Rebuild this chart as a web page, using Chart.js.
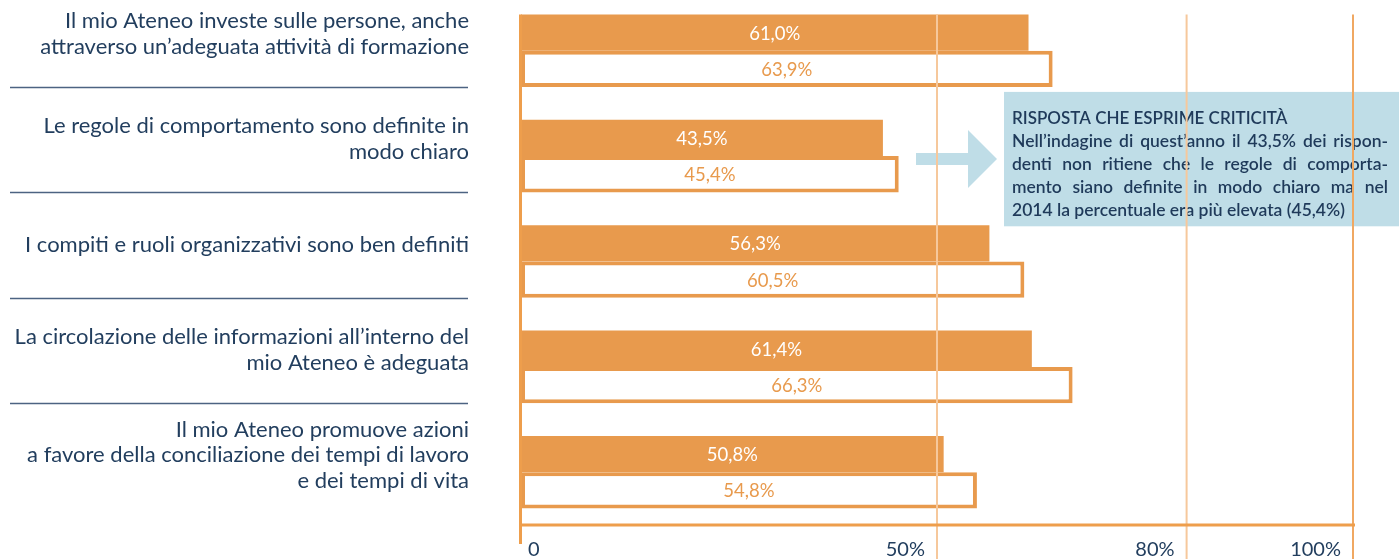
<!DOCTYPE html>
<html><head><meta charset="utf-8">
<script src="https://cdn.jsdelivr.net/npm/chart.js@4.4.1/dist/chart.umd.min.js"></script>
<style>
html,body{margin:0;padding:0;background:#fff;overflow:hidden;width:1399px;height:559px;}
#wrap{position:absolute;left:0;top:-2px;width:1399px;height:561px;}
</style></head><body>
<div id="wrap"><canvas id="c"></canvas></div>
<script>
const categories = [
  ["Il mio Ateneo investe sulle persone, anche", "attraverso un’adeguata attività di formazione"],
  ["Le regole di comportamento sono definite in", "modo chiaro"],
  ["I compiti e ruoli organizzativi sono ben definiti"],
  ["La circolazione delle informazioni all’interno del", "mio Ateneo è adeguata"],
  ["Il mio Ateneo promuove azioni", "a favore della conciliazione dei tempi di lavoro", "e dei tempi di vita"]
];
const valuesCurrent = [61.0, 43.5, 56.3, 61.4, 50.8];
const values2014 = [63.9, 45.4, 60.5, 66.3, 54.8];
const tickValues = [0, 50, 80, 100];
const tickLabels = ["0", "50%", "80%", "100%"];
const noteTitle = "RISPOSTA CHE ESPRIME CRITICITÀ";
const noteLines = [
  "Nell’indagine di quest’anno il 43,5% dei rispon-",
  "denti non ritiene che le regole di comporta-",
  "mento siano definite in modo chiaro ma nel",
  "2014 la percentuale era più elevata (45,4%)"
];

const ORANGE = '#E89A4D';
const AXIS_ORANGE = '#EE9E4C';
const GRID_LIGHT = '#F6C89C';
const GRID_100 = '#F0A862';
const NAVY = '#223E5E';
const SEP = '#4C6382';
const NOTE_BG = '#BFDDE7';
const FONT = 'Lato, "Open Sans", sans-serif';

function fmt(v){ return v.toFixed(1).replace('.', ',') + '%'; }

const decor = {
  id: 'decor',
  afterDraw(chart) {
    const ctx = chart.ctx;
    const xs = chart.scales.x, ys = chart.scales.y;
    const ca = chart.chartArea;
    const m0 = chart.getDatasetMeta(0), m1 = chart.getDatasetMeta(1);
    const H = chart.height;
    const topY = m0.data[0].y - m0.data[0].height / 2;

    // bar value labels
    ctx.save();
    ctx.textAlign = 'center';
    ctx.textBaseline = 'middle';
    ctx.font = '400 18.5px ' + FONT;
    [m0, m1].forEach((m, di) => {
      const vals = di === 0 ? valuesCurrent : values2014;
      ctx.fillStyle = di === 0 ? '#FFFFFF' : ORANGE;
      m.data.forEach((el, i) => {
        ctx.fillText(fmt(vals[i]), (el.x + el.base) / 2, el.y + 1);
      });
    });
    ctx.restore();

    // separators between category labels
    ctx.save();
    ctx.strokeStyle = SEP;
    ctx.lineWidth = 1.3;
    for (let i = 0; i < m1.data.length - 1; i++) {
      const el = m1.data[i];
      const y = Math.round(el.y + el.height / 2) + 0.5;
      ctx.beginPath();
      ctx.moveTo(10, y);
      ctx.lineTo(468, y);
      ctx.stroke();
    }
    ctx.restore();

    // annotation arrow + box
    const gc = ys.getPixelForValue(1) + 3;
    ctx.save();
    ctx.fillStyle = NOTE_BG;
    ctx.beginPath();
    ctx.moveTo(916, gc - 6);
    ctx.lineTo(968, gc - 6);
    ctx.lineTo(968, gc - 29);
    ctx.lineTo(997, gc);
    ctx.lineTo(968, gc + 29);
    ctx.lineTo(968, gc + 6);
    ctx.lineTo(916, gc + 6);
    ctx.closePath();
    ctx.fill();
    const boxTop = gc - 67.2, boxBot = gc + 67.2;
    ctx.fillRect(1004, boxTop, chart.width - 1004, boxBot - boxTop);
    ctx.fillStyle = '#1F3A5A';
    ctx.textBaseline = 'alphabetic';
    ctx.textAlign = 'left';
    const tx = 1012, tw = 376, lh = 22.8;
    ctx.font = '600 17px ' + FONT;
    ctx.fillText(noteTitle, tx, boxTop + 32.5);
    ctx.font = '600 17.5px ' + FONT;
    noteLines.forEach((line, i) => {
      const y = boxTop + 32.5 + lh * (i + 1);
      if (i === noteLines.length - 1) { ctx.fillText(line, tx, y); return; }
      const words = line.split(' ');
      const wsum = words.reduce((a, w) => a + ctx.measureText(w).width, 0);
      const gap = Math.max(3, (tw - wsum) / (words.length - 1));
      let x = tx;
      words.forEach(w => { ctx.fillText(w, x, y); x += ctx.measureText(w).width + gap; });
    });
    ctx.restore();

    // gridlines (drawn over bars)
    ctx.save();
    tickValues.forEach(v => {
      if (v === 0) return;
      const x = xs.getPixelForValue(v);
      ctx.strokeStyle = v === 100 ? GRID_100 : GRID_LIGHT;
      ctx.lineWidth = 2;
      ctx.beginPath();
      ctx.moveTo(x, topY);
      ctx.lineTo(x, H);
      ctx.stroke();
    });
    // axes
    ctx.strokeStyle = AXIS_ORANGE;
    ctx.lineWidth = 3;
    ctx.beginPath();
    ctx.moveTo(ca.left - 0.5, topY);
    ctx.lineTo(ca.left - 0.5, ca.bottom + 19);
    ctx.stroke();
    ctx.beginPath();
    ctx.moveTo(ca.left - 2, ca.bottom);
    ctx.lineTo(ca.right + 2, ca.bottom);
    ctx.stroke();
    // x tick labels
    ctx.fillStyle = NAVY;
    ctx.font = '20px ' + FONT;
    ctx.textBaseline = 'middle';
    tickValues.forEach((v, i) => {
      const x = xs.getPixelForValue(v);
      if (v === 0) { ctx.textAlign = 'left'; ctx.fillText(tickLabels[i], x + 7, ca.bottom + 25); }
      else { ctx.textAlign = 'right'; ctx.fillText(tickLabels[i], x - 12, ca.bottom + 25); }
    });
    ctx.restore();
  }
};

new Chart(document.getElementById('c'), {
  type: 'bar',
  data: {
    labels: categories,
    datasets: [
      { label: 'Quest’anno', data: valuesCurrent, backgroundColor: ORANGE, borderWidth: 0,
        categoryPercentage: 0.689, barPercentage: 1 },
      { label: '2014', data: values2014, backgroundColor: '#FFFFFF', borderColor: ORANGE,
        borderWidth: 4, borderSkipped: false, categoryPercentage: 0.689, barPercentage: 1 }
    ]
  },
  options: {
    indexAxis: 'y',
    responsive: true,
    maintainAspectRatio: false,
    animation: false,
    layout: { padding: { top: 0, right: 46, bottom: 0, left: 0 } },
    plugins: { legend: { display: false }, tooltip: { enabled: false } },
    scales: {
      x: {
        min: 0, max: 100,
        afterBuildTicks: s => { s.ticks = tickValues.map(v => ({ value: v })); },
        grid: { display: false },
        border: { display: false },
        ticks: { display: false },
        afterFit: s => { s.height = 34; s.paddingLeft = 0; s.paddingRight = 0; }
      },
      y: {
        grid: { display: false, drawTicks: false },
        border: { display: false },
        ticks: {
          padding: 52, color: NAVY, labelOffset: -17, autoSkip: false,
          font: { family: FONT, size: 22, lineHeight: '25.5px' }
        },
        afterFit: s => { s.width = 521; s.paddingTop = 0; s.paddingBottom = 0; }
      }
    }
  },
  plugins: [decor]
});
</script>
</body></html>
